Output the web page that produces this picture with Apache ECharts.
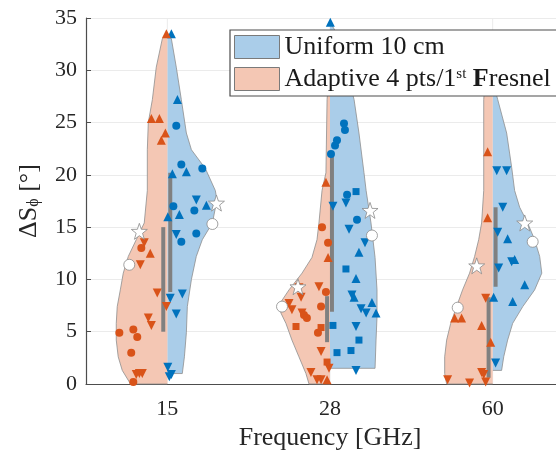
<!DOCTYPE html>
<html><head><meta charset="utf-8">
<script src="https://cdn.jsdelivr.net/npm/echarts@6/dist/echarts.min.js"></script>
<style>html,body{margin:0;padding:0;background:#fff}#c{width:556px;height:450px}</style>
</head><body><div id="c"></div>
<script>
// ---------------- data ----------------
const categories = ['15', '28', '60'];
const seriesNames = ['Uniform 10 cm', 'Adaptive 4 pts/1st Fresnel'];
const yMin = 0, yMax = 35, yStep = 5;

// violin half outlines per frequency: [value, half-width in category units]
const uniformOutline = [
  [[1.0,0.092],[2.6,0.105],[4.9,0.117],[7.4,0.123],[10.0,0.148],[12.2,0.178],[13.8,0.215],[15.4,0.277],[17.6,0.305],[18.5,0.295],[20.6,0.234],[22.4,0.148],[24.0,0.117],[27.2,0.086],[30.3,0.055],[33.0,0.025],[33.6,0]],
  [[1.5,0.277],[4.2,0.283],[6.4,0.289],[9.0,0.289],[12.1,0.277],[15.4,0.252],[18.5,0.222],[20.2,0.209],[24.0,0.178],[27.2,0.148],[30.3,0.098],[33.5,0.043],[34.6,0]],
  [[1.3,0.055],[2.6,0.068],[4.2,0.092],[5.8,0.123],[7.4,0.185],[9.0,0.258],[10.6,0.302],[12.2,0.289],[13.8,0.258],[15.4,0.215],[16.9,0.166],[18.5,0.135],[20.7,0.117],[24.0,0.086],[27.2,0.031],[29.0,0]]
];
const adaptiveOutline = [
  [[0,0.228],[0.2,0.234],[1.3,0.277],[2.6,0.302],[4.2,0.314],[5.8,0.314],[7.4,0.308],[9.0,0.289],[10.6,0.271],[12.2,0.240],[13.8,0.191],[15.4,0.142],[18.5,0.123],[22.4,0.123],[25.0,0.117],[27.2,0.092],[30.3,0.068],[33.0,0.031],[33.6,0]],
  [[0,0.129],[1.0,0.148],[2.6,0.191],[4.2,0.234],[5.8,0.271],[6.8,0.302],[7.7,0.308],[9.0,0.252],[10.6,0.172],[12.1,0.111],[13.8,0.080],[15.4,0.068],[18.5,0.049],[20.2,0.025],[27.2,0.018],[31.0,0]],
  [[0,0.283],[1.0,0.295],[2.6,0.295],[4.2,0.283],[5.8,0.258],[7.4,0.222],[9.0,0.185],[10.6,0.142],[12.2,0.111],[13.8,0.086],[15.4,0.068],[18.5,0.055],[27.2,0.055],[31.0,0.037],[32.5,0]]
];

// interquartile bars: [offset, low, high]
const uniformIQR  = [[0.018, 8.8, 20.2], [0.012, 6.9, 21.9], [0.018, 9.3, 16.9]];
const adaptiveIQR = [[-0.025, 5.0, 15.0], [-0.018, 4.0, 8.4], [-0.025, 0.6, 8.3]];

// white star / white circle markers: [offset, value]
const uniformStar    = [[0.302, 17.3], [0.246, 16.6], [0.197, 15.4]];
const uniformCircle  = [[0.277, 15.3], [0.258, 14.2], [0.246, 13.6]];
const adaptiveStar   = [[-0.172, 14.6], [-0.197, 9.3], [-0.098, 11.3]];
const adaptiveCircle = [[-0.234, 11.4], [-0.295, 7.4], [-0.215, 7.3]];

// individual points: [frequency index, offset, value, marker]
const uniformPoints = [
  [0,0.025,33.5,'u'],[0,0.062,27.2,'u'],[0,0.055,24.7,'c'],[0,0.086,21.0,'c'],[0,0.117,20.3,'u'],[0,0.215,20.6,'c'],[0,0.031,20.1,'u'],
  [0,0.037,17.0,'c'],[0,0.003,16.0,'u'],[0,0.074,16.2,'u'],[0,0.178,17.6,'d'],[0,0.166,16.6,'c'],[0,0.240,17.1,'u'],
  [0,0.055,14.3,'d'],[0,0.086,13.6,'c'],[0,0.178,14.4,'c'],[0,0.092,8.6,'d'],[0,0.018,8.2,'d'],[0,0.055,6.7,'d'],
  [0,0.003,1.6,'d'],[0,0.025,0.9,'d'],[0,0.012,0.7,'d'],
  [1,0.002,34.6,'u'],[1,0.086,24.9,'c'],[1,0.092,24.3,'c'],[1,0.043,23.3,'c'],[1,0.031,22.8,'c'],[1,0.006,22.0,'c'],
  [1,0.105,18.1,'c'],[1,0.160,18.4,'s'],[1,0.018,17.0,'d'],[1,0.098,17.3,'d'],[1,0.166,15.7,'c'],[1,0.117,14.8,'d'],[1,0.215,13.5,'d'],[1,0.178,12.6,'u'],
  [1,0.098,11.0,'s'],[1,0.160,10.1,'u'],[1,0.135,8.5,'d'],[1,0.148,8.3,'u'],[1,0.258,7.8,'u'],[1,0.191,7.2,'d'],[1,0.222,6.8,'d'],[1,0.283,6.8,'u'],
  [1,0.018,5.6,'s'],[1,0.160,5.5,'d'],[1,0.178,4.2,'s'],[1,0.043,3.0,'s'],[1,0.129,3.2,'s'],[1,0.160,1.3,'d'],
  [2,0.025,20.4,'d'],[2,0.086,20.4,'d'],[2,0.062,16.9,'d'],[2,0.031,14.5,'d'],[2,0.092,13.9,'u'],[2,0.117,11.7,'d'],[2,0.135,11.9,'u'],
  [2,0.037,11.1,'d'],[2,0.197,9.5,'u'],[2,0.006,8.3,'u'],[2,0.123,7.9,'u'],[2,0.018,2.0,'d']
];
const adaptivePoints = [
  [0,-0.006,33.5,'u'],[0,-0.098,25.4,'u'],[0,-0.049,25.4,'u'],[0,-0.012,24.0,'u'],[0,-0.037,23.3,'u'],
  [0,-0.142,13.5,'d'],[0,-0.160,13.0,'c'],[0,-0.105,12.5,'u'],[0,-0.166,11.4,'d'],[0,-0.062,8.7,'d'],[0,-0.006,7.4,'d'],
  [0,-0.117,6.3,'d'],[0,-0.098,5.6,'d'],[0,-0.295,4.9,'c'],[0,-0.209,5.2,'c'],[0,-0.185,4.5,'c'],[0,-0.222,3.0,'c'],
  [0,-0.172,1.0,'d'],[0,-0.191,0.9,'d'],[0,-0.154,1.0,'d'],[0,-0.209,0.2,'c'],
  [1,-0.025,19.3,'u'],[1,-0.049,15.0,'c'],[1,-0.012,13.5,'c'],[1,-0.012,12.1,'u'],[1,-0.191,9.2,'d'],[1,-0.068,9.3,'d'],
  [1,-0.178,8.3,'d'],[1,-0.025,8.8,'c'],[1,-0.252,7.7,'d'],[1,-0.234,7.1,'d'],[1,-0.172,6.8,'d'],[1,-0.160,6.6,'c'],
  [1,-0.142,6.3,'c'],[1,-0.055,7.4,'c'],[1,-0.209,5.5,'s'],[1,-0.055,5.4,'s'],[1,-0.074,4.9,'c'],[1,-0.055,3.1,'d'],
  [1,-0.018,2.1,'s'],[1,-0.006,1.5,'d'],[1,-0.117,1.1,'d'],[1,-0.055,0.4,'d'],[1,-0.018,0.4,'u'],[1,-0.080,0.4,'d'],
  [2,-0.031,22.2,'u'],[2,-0.031,15.9,'u'],[2,-0.043,8.2,'d'],[2,-0.234,6.3,'u'],[2,-0.191,6.3,'u'],[2,-0.068,5.6,'u'],
  [2,-0.012,4.0,'u'],[2,-0.068,1.1,'d'],[2,-0.055,0.9,'d'],[2,-0.277,0.4,'d'],[2,-0.142,0.1,'d'],[2,-0.043,0.2,'d']
];

// ---------------- styling ----------------
const BLUE = '#0072BD', ORANGE = '#D95319';
const BLUE_FILL = '#aacde9', ORANGE_FILL = '#f4c7b4';
const FONT = 'Liberation Serif';
const STAR = 'path://M0,-10L2.35,-3.24L9.51,-3.09L3.8,1.24L5.88,8.09L0,4L-5.88,8.09L-3.8,1.24L-9.51,-3.09L-2.35,-3.24Z';

function violin(name, outlines, side, fill) {
  return {
    type: 'custom', name, z: 1, silent: true,
    itemStyle: { color: fill },
    encode: { x: 0, y: 1 },
    data: categories.map((c, i) => [i + 1, 0]),
    renderItem(params, api) {
      const g = api.value(0);
      const ol = outlines[params.dataIndex];
      const pts = ol.map(p => api.coord([g + side * p[1], p[0]]));
      const poly = [api.coord([g, ol[0][0]])].concat(pts, [api.coord([g, ol[ol.length - 1][0]])]);
      return { type: 'group', children: [
        { type: 'polygon', shape: { points: poly }, style: { fill: fill, stroke: null } },
        { type: 'polyline', shape: { points: poly }, style: { fill: null, stroke: '#8e8e8e', lineWidth: 0.8 } }
      ]};
    }
  };
}
function iqr(bars) {
  return {
    type: 'custom', z: 2, silent: true,
    encode: { x: 0, y: 1 },
    data: bars.map((b, i) => [i + 1 + b[0], b[1], b[2]]),
    renderItem(params, api) {
      const a = api.coord([api.value(0), api.value(1)]);
      const b = api.coord([api.value(0), api.value(2)]);
      return { type: 'line', shape: { x1: a[0], y1: a[1], x2: b[0], y2: b[1] },
        style: { stroke: '#808080', lineWidth: 4 } };
    }
  };
}
const SHAPES = { u: ['triangle', 0, 9], d: ['triangle', 180, 9], c: ['circle', 0, 8], s: ['rect', 0, 7] };
function pointSeries(points, color) {
  return Object.keys(SHAPES).map(k => ({
    type: 'scatter', z: 3, silent: true,
    symbol: SHAPES[k][0], symbolRotate: SHAPES[k][1], symbolSize: SHAPES[k][2],
    itemStyle: { color: color, opacity: 1 },
    data: points.filter(p => p[3] === k).map(p => [p[0] + 1 + p[1], p[2]])
  }));
}
function whiteMarks(marks, symbol, size) {
  return {
    type: 'scatter', z: 4, silent: true, symbol, symbolSize: size,
    itemStyle: { color: '#ffffff', borderColor: '#8a8a8a', borderWidth: 0.8, opacity: 1 },
    data: marks.map((m, i) => [i + 1 + m[0], m[1]])
  };
}
const gridLines = {
  type: 'custom', z: 0, silent: true, encode: { x: 0, y: 1 },
  data: categories.map((c, i) => [i + 1, yMin]),
  renderItem(params, api) {
    const a = api.coord([api.value(0), yMin]);
    const b = api.coord([api.value(0), yMax]);
    return { type: 'line', shape: { x1: a[0], y1: a[1], x2: b[0], y2: b[1] }, style: { stroke: '#ebebeb', lineWidth: 1 } };
  }
};

const chart = echarts.init(document.getElementById('c'), null, { renderer: 'canvas' });
chart.setOption({
  animation: false,
  backgroundColor: '#ffffff',
  grid: { left: 86, right: -18, top: 18, bottom: 66, containLabel: false, outerBoundsMode: 'none' },
  xAxis: {
    type: 'value', min: 0.5, max: 3.5, interval: 0.5,
    name: 'Frequency [GHz]', nameLocation: 'middle', nameGap: 40,
    nameTextStyle: { fontFamily: FONT, fontSize: 26, color: '#262626' },
    axisLine: { show: true, onZero: false, lineStyle: { color: '#4d4d4d', width: 1.2 } },
    axisTick: { show: false }, splitLine: { show: false },
    axisLabel: { fontFamily: FONT, fontSize: 22, color: '#262626', margin: 14,
      formatter: v => (Math.abs(v - Math.round(v)) < 1e-6 && v >= 1 && v <= 3) ? categories[Math.round(v) - 1] : '' }
  },
  yAxis: {
    type: 'value', min: yMin, max: yMax, interval: yStep,
    name: '{a|ΔS}{s|ϕ}{a| [°]}', nameLocation: 'middle', nameGap: 44, nameRotate: 90,
    nameTextStyle: { fontFamily: FONT, color: '#262626',
      rich: { a: { fontFamily: FONT, fontSize: 26, color: '#262626' },
              s: { fontFamily: FONT, fontSize: 16, color: '#262626', padding: [10, 0, 0, 0] } } },
    axisLine: { show: true, lineStyle: { color: '#4d4d4d', width: 1.2 } },
    axisTick: { show: true, inside: true, length: 5, lineStyle: { color: '#4d4d4d' } },
    splitLine: { show: true, lineStyle: { color: '#ebebeb', width: 1 } },
    axisLabel: { fontFamily: FONT, fontSize: 22, color: '#262626', margin: 9 }
  },
  legend: {
    orient: 'vertical', left: 230, top: 30, z: 10,
    padding: [4, 16, 4, 4], itemWidth: 45, itemHeight: 23, itemGap: 6, icon: 'rect',
    backgroundColor: '#ffffff', borderColor: '#4d4d4d', borderWidth: 1.2,
    selectedMode: false,
    textStyle: { fontFamily: FONT, fontSize: 26, color: '#1a1a1a',
      rich: { t: { fontFamily: FONT, fontSize: 26, color: '#1a1a1a' },
              b: { fontFamily: FONT, fontSize: 26, fontWeight: 'bold', color: '#1a1a1a' },
              sup: { fontFamily: FONT, fontSize: 15, color: '#1a1a1a', padding: [0, 0, 10, 0] } } },
    formatter: n => n === seriesNames[1] ? '{t|Adaptive 4 pts/1}{sup|st}{t| }{b|F}{t|resnel}' : '{t|' + n + '}',
    data: [
      { name: seriesNames[0], itemStyle: { color: BLUE_FILL, borderColor: '#7a7a7a', borderWidth: 1 } },
      { name: seriesNames[1], itemStyle: { color: ORANGE_FILL, borderColor: '#7a7a7a', borderWidth: 1 } }
    ]
  },
  series: [
    gridLines,
    violin(seriesNames[0], uniformOutline, 1, BLUE_FILL),
    violin(seriesNames[1], adaptiveOutline, -1, ORANGE_FILL),
    iqr(uniformIQR), iqr(adaptiveIQR),
    ...pointSeries(uniformPoints, BLUE),
    ...pointSeries(adaptivePoints, ORANGE),
    whiteMarks(uniformStar, STAR, 16), whiteMarks(adaptiveStar, STAR, 16),
    whiteMarks(uniformCircle, 'circle', 11), whiteMarks(adaptiveCircle, 'circle', 11)
  ]
});
</script></body></html>
